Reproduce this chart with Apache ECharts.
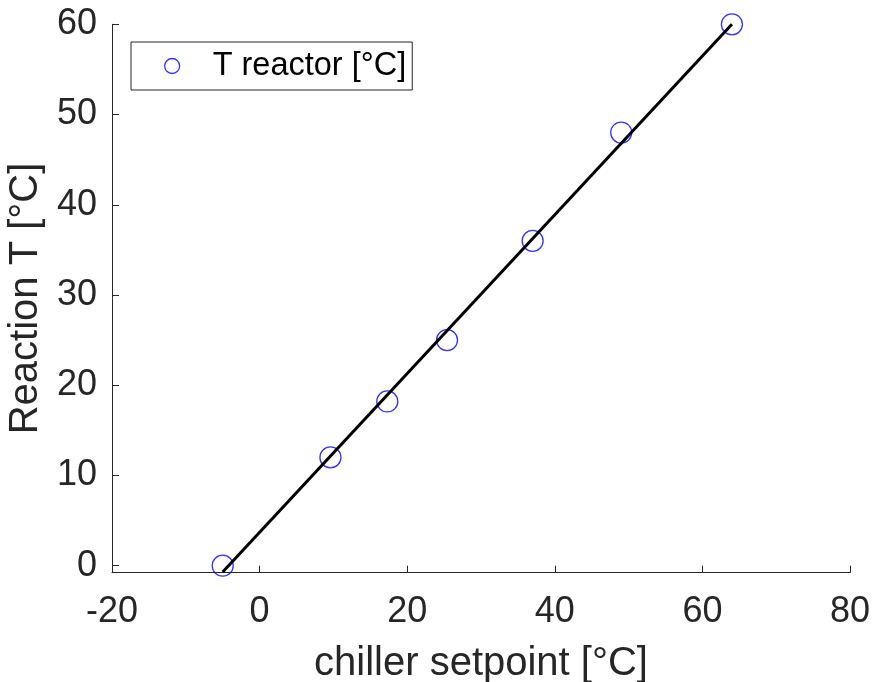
<!DOCTYPE html>
<html><head><meta charset="utf-8">
<script src="https://cdn.jsdelivr.net/npm/echarts@6/dist/echarts.min.js"></script>
<style>html,body{margin:0;padding:0;background:#fff}#c{width:873px;height:682px}</style>
</head><body><div id="c"></div>
<script>
const setpoint = [-5, 9.6, 17.3, 25.4, 37, 49, 64];
const reactorT = [0, 12, 18.2, 25, 36, 48, 60];
const fitX = [-5, 64];
const fitY = [-0.7, 60];
const xTicks = [-20, 0, 20, 40, 60, 80];
const yTicks = [0, 10, 20, 30, 40, 50, 60];

const axisColor = '#262626';
const font = 'Liberation Sans, Arial, sans-serif';
const chart = echarts.init(document.getElementById('c'));
chart.setOption({
  animation: false,
  backgroundColor: '#fff',
  grid: {left: 112, right: 23, top: 24.3, bottom: 109.3, containLabel: false, outerBoundsMode: 'none'},
  legend: {
    left: 131, top: 42,
    orient: 'vertical',
    data: ['T reactor [°C]'],
    backgroundColor: '#fff',
    borderColor: axisColor, borderWidth: 1,
    padding: [6, 6, 6, 33],
    itemWidth: 15, itemHeight: 15,
    itemStyle: {color: 'transparent', borderColor: '#0000ff', borderWidth: 1.3},
    textStyle: {fontFamily: font, fontSize: 32.5, color: '#000', padding: [0, 0, 0, 28], lineHeight: 36}
  },
  xAxis: {
    type: 'value', min: -20, max: 80, interval: 20,
    name: 'chiller setpoint [°C]', nameLocation: 'middle', nameGap: 71,
    nameTextStyle: {fontFamily: font, fontSize: 40, color: axisColor},
    axisLine: {show: true, onZero: false, lineStyle: {color: axisColor, width: 1}},
    axisTick: {show: true, inside: true, length: 7, lineStyle: {color: axisColor}},
    axisLabel: {fontFamily: font, fontSize: 36, color: axisColor, margin: 21, showMinLabel: true, showMaxLabel: true},
    splitLine: {show: false}
  },
  yAxis: {
    type: 'value', min: -0.78, max: 60,
    name: 'Reaction T [°C]', nameLocation: 'middle', nameGap: 62,
    nameTextStyle: {fontFamily: font, fontSize: 40, color: axisColor},
    axisLine: {show: true, onZero: false, lineStyle: {color: axisColor, width: 1}},
    axisTick: {show: true, inside: true, length: 7, lineStyle: {color: axisColor}, customValues: yTicks},
    axisLabel: {fontFamily: font, fontSize: 36, color: axisColor, margin: 15, customValues: yTicks},
    splitLine: {show: false}
  },
  series: [
    {
      name: 'fit', type: 'line',
      data: fitX.map((x, i) => [x, fitY[i]]),
      showSymbol: false, symbol: 'none',
      lineStyle: {color: '#000', width: 3},
      clip: false, z: 3
    },
    {
      name: 'T reactor [°C]', type: 'scatter',
      data: setpoint.map((x, i) => [x, reactorT[i]]),
      symbol: 'circle', symbolSize: 21,
      itemStyle: {color: 'transparent', borderColor: '#0000ff', borderWidth: 1.3},
      clip: false, z: 2
    }
  ]
});
</script></body></html>
